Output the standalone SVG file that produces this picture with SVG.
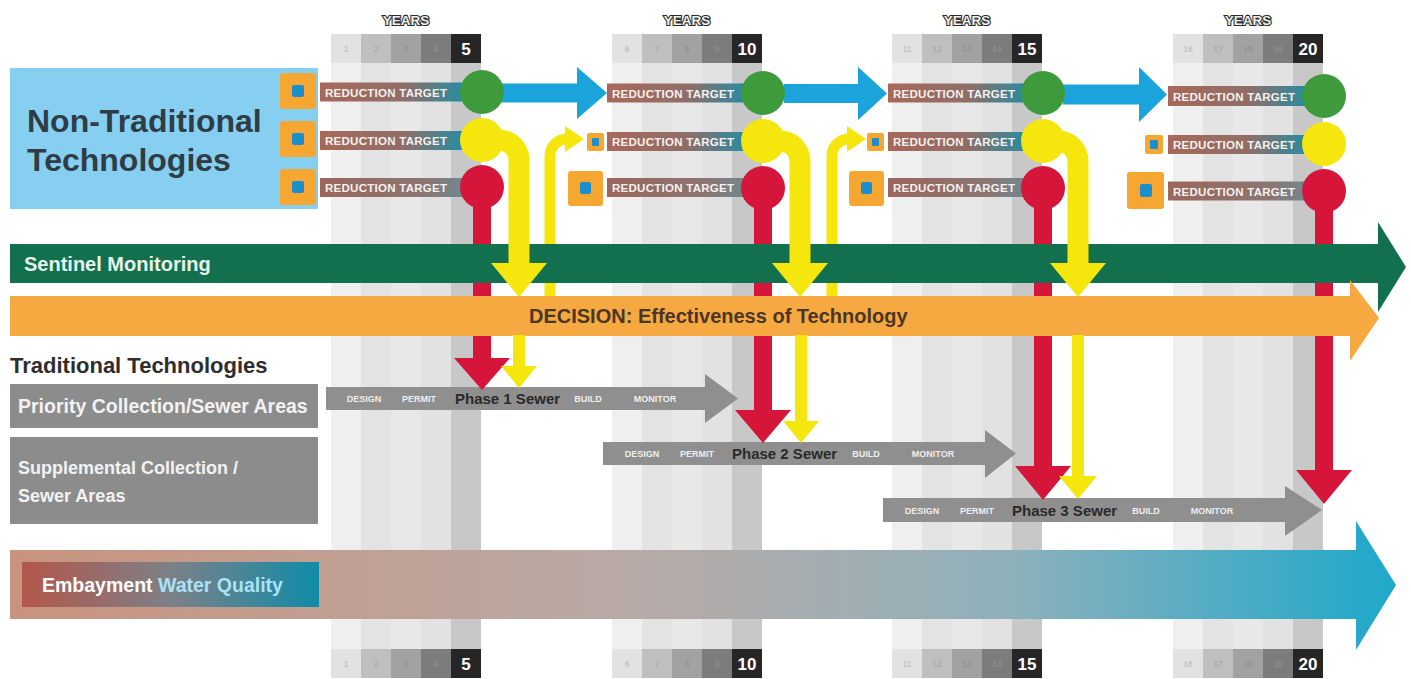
<svg xmlns="http://www.w3.org/2000/svg" width="1411" height="679" viewBox="0 0 1411 679">
  <style>
    .sans { font-family: "Liberation Sans", Arial, sans-serif; font-weight: bold; }
    .yrs { font-size: 13.5px; fill: #f0f0f0; stroke: #2b2b2b; stroke-width: 2.2px; paint-order: stroke; text-anchor: middle; }
    .yn { font-size: 8.5px; text-anchor: middle; }
    .yb { font-size: 17px; fill: #ffffff; text-anchor: middle; }
    .rt { font-size: 11.5px; fill: #f6f1ee; }
    .ph { font-size: 9px; fill: #eeeeee; text-anchor: middle; }
    .phn { font-size: 15px; fill: #2a2a2a; }
    .sq { fill: #f6a731; }
    .dot { fill: #1b8fcb; }
    .c0 { fill: #efefef; } .c1 { fill: #e3e3e3; } .c2 { fill: #e8e8e8; } .c3 { fill: #e2e2e2; } .c4 { fill: #c8c8c8; }
    .b0 { fill: #e2e2e2; } .b1 { fill: #bfbfbf; } .b2 { fill: #a2a2a2; } .b3 { fill: #7c7c7c; } .b4 { fill: #262626; }
    .t0 { fill: #c4c4c4; } .t1 { fill: #acacac; } .t2 { fill: #939393; } .t3 { fill: #8c8c8c; }
    .red { fill: #d5163a; }
    .blue { fill: #1ba3dc; }
    .yel { fill: #f5e60e; }
    .yels { fill: none; stroke: #f5e60e; }
    .phase { fill: #8f8f8f; }
    .gray-box { fill: #8c8c8c; }
    .box-txt { fill: #f2f2f2; }
  </style>
  <defs>
    <linearGradient id="gLabel" x1="0" y1="0" x2="1" y2="0">
      <stop offset="0" stop-color="#a8685a"/>
      <stop offset="0.55" stop-color="#8f6e68"/>
      <stop offset="1" stop-color="#1b8fa9"/>
    </linearGradient>
    <linearGradient id="gLabelLow" x1="0" y1="0" x2="1" y2="0">
      <stop offset="0" stop-color="#9c665c"/>
      <stop offset="0.7" stop-color="#8a7673"/>
      <stop offset="1" stop-color="#6a8c94"/>
    </linearGradient>
    <linearGradient id="gEmbay" x1="0" y1="0" x2="1" y2="0">
      <stop offset="0" stop-color="#c8937e"/>
      <stop offset="0.45" stop-color="#b8aaa6"/>
      <stop offset="0.72" stop-color="#8fb0bb"/>
      <stop offset="1" stop-color="#1ea8ca"/>
    </linearGradient>
    <linearGradient id="gEmbayIn" x1="0" y1="0" x2="1" y2="0">
      <stop offset="0" stop-color="#b3574a"/>
      <stop offset="0.5" stop-color="#7d8088"/>
      <stop offset="1" stop-color="#0f8ca8"/>
    </linearGradient>
  </defs>

  <rect width="1411" height="679" fill="#ffffff"/>

  <!-- year columns: background stripes, header and footer boxes -->
  <g id="timeline-columns">
    <g id="stripes">
      <rect class="c0" x="331" y="63" width="30" height="586"/><rect class="c1" x="361" y="63" width="30" height="586"/><rect class="c2" x="391" y="63" width="30" height="586"/><rect class="c3" x="421" y="63" width="30" height="586"/><rect class="c4" x="451" y="63" width="30" height="586"/>
      <rect class="c0" x="612" y="63" width="30" height="586"/><rect class="c1" x="642" y="63" width="30" height="586"/><rect class="c2" x="672" y="63" width="30" height="586"/><rect class="c3" x="702" y="63" width="30" height="586"/><rect class="c4" x="732" y="63" width="30" height="586"/>
      <rect class="c0" x="892" y="63" width="30" height="586"/><rect class="c1" x="922" y="63" width="30" height="586"/><rect class="c2" x="952" y="63" width="30" height="586"/><rect class="c3" x="982" y="63" width="30" height="586"/><rect class="c4" x="1012" y="63" width="30" height="586"/>
      <rect class="c0" x="1173" y="63" width="30" height="586"/><rect class="c1" x="1203" y="63" width="30" height="586"/><rect class="c2" x="1233" y="63" width="30" height="586"/><rect class="c3" x="1263" y="63" width="30" height="586"/><rect class="c4" x="1293" y="63" width="30" height="586"/>
    </g>
    <g id="years-top" class="sans">
      <text class="yrs" x="406" y="25">YEARS</text>
      <text class="yrs" x="687" y="25">YEARS</text>
      <text class="yrs" x="967" y="25">YEARS</text>
      <text class="yrs" x="1248" y="25">YEARS</text>

      <rect class="b0" x="331" y="34" width="30" height="29"/><rect class="b1" x="361" y="34" width="30" height="29"/><rect class="b2" x="391" y="34" width="30" height="29"/><rect class="b3" x="421" y="34" width="30" height="29"/><rect class="b4" x="451" y="34" width="30" height="29"/>
      <text class="yn t0" x="346" y="52">1</text><text class="yn t1" x="376" y="52">2</text><text class="yn t2" x="406" y="52">3</text><text class="yn t3" x="436" y="52">4</text><text class="yb" x="466" y="55">5</text>

      <rect class="b0" x="612" y="34" width="30" height="29"/><rect class="b1" x="642" y="34" width="30" height="29"/><rect class="b2" x="672" y="34" width="30" height="29"/><rect class="b3" x="702" y="34" width="30" height="29"/><rect class="b4" x="732" y="34" width="30" height="29"/>
      <text class="yn t0" x="627" y="52">6</text><text class="yn t1" x="657" y="52">7</text><text class="yn t2" x="687" y="52">8</text><text class="yn t3" x="717" y="52">9</text><text class="yb" x="747" y="55">10</text>

      <rect class="b0" x="892" y="34" width="30" height="29"/><rect class="b1" x="922" y="34" width="30" height="29"/><rect class="b2" x="952" y="34" width="30" height="29"/><rect class="b3" x="982" y="34" width="30" height="29"/><rect class="b4" x="1012" y="34" width="30" height="29"/>
      <text class="yn t0" x="907" y="52">11</text><text class="yn t1" x="937" y="52">12</text><text class="yn t2" x="967" y="52">13</text><text class="yn t3" x="997" y="52">14</text><text class="yb" x="1027" y="55">15</text>

      <rect class="b0" x="1173" y="34" width="30" height="29"/><rect class="b1" x="1203" y="34" width="30" height="29"/><rect class="b2" x="1233" y="34" width="30" height="29"/><rect class="b3" x="1263" y="34" width="30" height="29"/><rect class="b4" x="1293" y="34" width="30" height="29"/>
      <text class="yn t0" x="1188" y="52">16</text><text class="yn t1" x="1218" y="52">17</text><text class="yn t2" x="1248" y="52">18</text><text class="yn t3" x="1278" y="52">19</text><text class="yb" x="1308" y="55">20</text>
    </g>
    <g id="years-bottom" class="sans">
      <rect class="b0" x="331" y="649" width="30" height="29"/><rect class="b1" x="361" y="649" width="30" height="29"/><rect class="b2" x="391" y="649" width="30" height="29"/><rect class="b3" x="421" y="649" width="30" height="29"/><rect class="b4" x="451" y="649" width="30" height="29"/>
      <text class="yn t0" x="346" y="667">1</text><text class="yn t1" x="376" y="667">2</text><text class="yn t2" x="406" y="667">3</text><text class="yn t3" x="436" y="667">4</text><text class="yb" x="466" y="670">5</text>

      <rect class="b0" x="612" y="649" width="30" height="29"/><rect class="b1" x="642" y="649" width="30" height="29"/><rect class="b2" x="672" y="649" width="30" height="29"/><rect class="b3" x="702" y="649" width="30" height="29"/><rect class="b4" x="732" y="649" width="30" height="29"/>
      <text class="yn t0" x="627" y="667">6</text><text class="yn t1" x="657" y="667">7</text><text class="yn t2" x="687" y="667">8</text><text class="yn t3" x="717" y="667">9</text><text class="yb" x="747" y="670">10</text>

      <rect class="b0" x="892" y="649" width="30" height="29"/><rect class="b1" x="922" y="649" width="30" height="29"/><rect class="b2" x="952" y="649" width="30" height="29"/><rect class="b3" x="982" y="649" width="30" height="29"/><rect class="b4" x="1012" y="649" width="30" height="29"/>
      <text class="yn t0" x="907" y="667">11</text><text class="yn t1" x="937" y="667">12</text><text class="yn t2" x="967" y="667">13</text><text class="yn t3" x="997" y="667">14</text><text class="yb" x="1027" y="670">15</text>

      <rect class="b0" x="1173" y="649" width="30" height="29"/><rect class="b1" x="1203" y="649" width="30" height="29"/><rect class="b2" x="1233" y="649" width="30" height="29"/><rect class="b3" x="1263" y="649" width="30" height="29"/><rect class="b4" x="1293" y="649" width="30" height="29"/>
      <text class="yn t0" x="1188" y="667">16</text><text class="yn t1" x="1218" y="667">17</text><text class="yn t2" x="1248" y="667">18</text><text class="yn t3" x="1278" y="667">19</text><text class="yb" x="1308" y="670">20</text>
    </g>
  </g>

  <!-- left-hand category boxes -->
  <g id="non-traditional" class="sans">
    <rect x="10" y="68" width="308" height="141" fill="#86cff0"/>
    <text x="27" y="132" font-size="32" fill="#2f3d47">Non-Traditional</text>
    <text x="27" y="171" font-size="32" fill="#2f3d47">Technologies</text>
  </g>
  <g id="traditional-title" class="sans">
    <text x="10" y="373" font-size="22" fill="#2e2e2e">Traditional Technologies</text>
  </g>
  <g id="priority-areas" class="sans">
    <rect class="gray-box" x="10" y="384" width="308" height="44"/>
    <text class="box-txt" x="18" y="413" font-size="19.5">Priority Collection/Sewer Areas</text>
  </g>
  <g id="supplemental-areas" class="sans">
    <rect class="gray-box" x="10" y="437" width="308" height="87"/>
    <text class="box-txt" x="18" y="474" font-size="18">Supplemental Collection /</text>
    <text class="box-txt" x="18" y="502" font-size="18">Sewer Areas</text>
  </g>

  <!-- sewer phase arrows -->
  <g id="phase-1" class="sans">
    <path class="phase" d="M326,387 H705 V374 L738,398.5 L705,423 V410 H326 Z"/>
    <text class="ph" x="364" y="402">DESIGN</text>
    <text class="ph" x="419" y="402">PERMIT</text>
    <text class="phn" x="455" y="404">Phase 1 Sewer</text>
    <text class="ph" x="588" y="402">BUILD</text>
    <text class="ph" x="655" y="402">MONITOR</text>
  </g>
  <g id="phase-2" class="sans">
    <path class="phase" d="M603,442 H985 V430 L1016,453.5 L985,478 V465 H603 Z"/>
    <text class="ph" x="642" y="457">DESIGN</text>
    <text class="ph" x="697" y="457">PERMIT</text>
    <text class="phn" x="732" y="459">Phase 2 Sewer</text>
    <text class="ph" x="866" y="457">BUILD</text>
    <text class="ph" x="933" y="457">MONITOR</text>
  </g>
  <g id="phase-3" class="sans">
    <path class="phase" d="M883,498 H1285 V486 L1322,510 L1285,536 V522 H883 Z"/>
    <text class="ph" x="922" y="514">DESIGN</text>
    <text class="ph" x="977" y="514">PERMIT</text>
    <text class="phn" x="1012" y="516">Phase 3 Sewer</text>
    <text class="ph" x="1146" y="514">BUILD</text>
    <text class="ph" x="1212" y="514">MONITOR</text>
  </g>

  <!-- reduction target rows per five-year stage -->
  <g id="stage-5" class="sans">
    <rect class="sq" x="280" y="73" width="36" height="36" rx="3"/><rect class="dot" x="292" y="85" width="12" height="12" rx="2"/>
    <rect class="sq" x="280" y="121" width="36" height="36" rx="3"/><rect class="dot" x="292" y="133" width="12" height="12" rx="2"/>
    <rect class="sq" x="280" y="169" width="36" height="36" rx="3"/><rect class="dot" x="292" y="181" width="12" height="12" rx="2"/>
    <rect x="320" y="82.5" width="150" height="19" fill="url(#gLabel)"/><text class="rt" x="325" y="96.5" textLength="122">REDUCTION TARGET</text>
    <rect x="320" y="131" width="150" height="19" fill="url(#gLabel)"/><text class="rt" x="325" y="145" textLength="122">REDUCTION TARGET</text>
    <rect x="320" y="178" width="150" height="19" fill="url(#gLabelLow)"/><text class="rt" x="325" y="192" textLength="122">REDUCTION TARGET</text>
  </g>
  <g id="stage-10" class="sans">
    <rect class="sq" x="587" y="133" width="17" height="18" rx="2"/><rect class="dot" x="592" y="138" width="7" height="8" rx="1"/>
    <rect class="sq" x="568" y="171" width="35" height="35" rx="3"/><rect class="dot" x="580" y="182" width="11" height="12" rx="2"/>
    <rect x="607" y="83.5" width="146" height="19" fill="url(#gLabel)"/><text class="rt" x="612" y="97.5" textLength="122">REDUCTION TARGET</text>
    <rect x="607" y="132" width="146" height="19" fill="url(#gLabel)"/><text class="rt" x="612" y="146" textLength="122">REDUCTION TARGET</text>
    <rect x="607" y="178" width="146" height="19" fill="url(#gLabelLow)"/><text class="rt" x="612" y="192" textLength="122">REDUCTION TARGET</text>
  </g>
  <g id="stage-15" class="sans">
    <rect class="sq" x="867" y="133" width="17" height="18" rx="2"/><rect class="dot" x="872" y="138" width="7" height="8" rx="1"/>
    <rect class="sq" x="849" y="171" width="35" height="35" rx="3"/><rect class="dot" x="861" y="182" width="11" height="12" rx="2"/>
    <rect x="888" y="83.5" width="145" height="19" fill="url(#gLabel)"/><text class="rt" x="893" y="97.5" textLength="122">REDUCTION TARGET</text>
    <rect x="888" y="132" width="145" height="19" fill="url(#gLabel)"/><text class="rt" x="893" y="146" textLength="122">REDUCTION TARGET</text>
    <rect x="888" y="178" width="145" height="19" fill="url(#gLabelLow)"/><text class="rt" x="893" y="192" textLength="122">REDUCTION TARGET</text>
  </g>
  <g id="stage-20" class="sans">
    <rect class="sq" x="1145" y="135" width="18" height="19" rx="2"/><rect class="dot" x="1150" y="140" width="8" height="9" rx="1"/>
    <rect class="sq" x="1127" y="172" width="37" height="37" rx="3"/><rect class="dot" x="1140" y="184" width="12" height="13" rx="2"/>
    <rect x="1168" y="86" width="146" height="20" fill="url(#gLabel)"/><text class="rt" x="1173" y="100.5" textLength="122">REDUCTION TARGET</text>
    <rect x="1168" y="135" width="146" height="19" fill="url(#gLabel)"/><text class="rt" x="1173" y="149" textLength="122">REDUCTION TARGET</text>
    <rect x="1168" y="181.5" width="146" height="19" fill="url(#gLabelLow)"/><text class="rt" x="1173" y="195.5" textLength="122">REDUCTION TARGET</text>
  </g>

  <!-- connectors running beneath the monitoring and decision bands -->
  <g id="connectors-under">
    <!-- red: reduction target missed, go to sewer phase -->
    <path class="red" d="M473,187 H491 V358 H510 L482,390 L454,358 H473 Z"/>
    <path class="red" d="M754,188 H772 V410 H791 L763,443 L735,410 H754 Z"/>
    <path class="red" d="M1034,188 H1052 V466 H1071 L1043,500 L1015,466 H1034 Z"/>
    <path class="red" d="M1315,191 H1333 V470 H1352 L1324,504 L1296,470 H1315 Z"/>
    <!-- yellow: back up to the next stage's technology -->
    <path class="yels" stroke-width="11" d="M550,296 V156 A17,17 0 0 1 567,139 H568"/>
    <path class="yel" d="M565,126 L584,139 L565,152 Z"/>
    <path class="yels" stroke-width="11" d="M832,296 V156 A17,17 0 0 1 849,139 H850"/>
    <path class="yel" d="M847,126 L866,139 L847,152 Z"/>
    <!-- blue: target met, continue to next stage -->
    <path class="blue" d="M500,83.5 H577 V67 L607,93 L577,119 V102.5 H500 Z"/>
    <path class="blue" d="M784,84 H858 V67 L887,93.5 L858,120 V103 H784 Z"/>
    <path class="blue" d="M1063,84.5 H1139 V67 L1167,94.5 L1139,122 V104.5 H1063 Z"/>
  </g>

  <!-- monitoring and decision bands -->
  <g id="sentinel-monitoring" class="sans">
    <path fill="#12704e" d="M10,244 H1378 V222 L1406,267 L1378,312 V283 H10 Z"/>
    <text x="24" y="271" font-size="20" fill="#e6f2ec">Sentinel Monitoring</text>
  </g>
  <g id="decision" class="sans">
    <path fill="#f6a940" d="M10,296 H1350 V280 L1379,318 L1350,361 V336 H10 Z"/>
    <text x="529" y="323" font-size="20" fill="#4b3628">DECISION: Effectiveness of Technology</text>
  </g>

  <!-- connectors drawn over the bands -->
  <g id="connectors-over">
    <!-- yellow: partial result goes to decision -->
    <path class="yels" stroke-width="21" d="M482,140 H499 A20,20 0 0 1 519,160 V264"/>
    <path class="yel" d="M491,263 H547 L519,297 Z"/>
    <path class="yels" stroke-width="21" d="M763,141 H780 A20,20 0 0 1 800,161 V264"/>
    <path class="yel" d="M772,263 H828 L800,297 Z"/>
    <path class="yels" stroke-width="21" d="M1043,141 H1058 A20,20 0 0 1 1078,161 V264"/>
    <path class="yel" d="M1050,263 H1106 L1078,297 Z"/>
    <!-- yellow: decision leads to the sewer phase -->
    <path class="yel" d="M513,335 H525 V366 H537 L519,388 L501,366 H513 Z"/>
    <path class="yel" d="M795,335 H807 V421 H819 L801,443 L783,421 H795 Z"/>
    <path class="yel" d="M1072,335 H1084 V476 H1097 L1078,499 L1059,476 H1072 Z"/>
  </g>

  <!-- stage indicator lights -->
  <g id="lights-5">
    <circle cx="482" cy="92" r="22" fill="#3d9b3c"/>
    <circle cx="482" cy="140" r="22" fill="#f5e60e"/>
    <circle cx="482" cy="187" r="22" fill="#d5163a"/>
  </g>
  <g id="lights-10">
    <circle cx="763" cy="93" r="22" fill="#3d9b3c"/>
    <circle cx="763" cy="141" r="22" fill="#f5e60e"/>
    <circle cx="763" cy="188" r="22" fill="#d5163a"/>
  </g>
  <g id="lights-15">
    <circle cx="1043" cy="93" r="22" fill="#3d9b3c"/>
    <circle cx="1043" cy="141" r="22" fill="#f5e60e"/>
    <circle cx="1043" cy="188" r="22" fill="#d5163a"/>
  </g>
  <g id="lights-20">
    <circle cx="1324" cy="96" r="22" fill="#3d9b3c"/>
    <circle cx="1324" cy="144" r="22" fill="#f5e60e"/>
    <circle cx="1324" cy="191" r="22" fill="#d5163a"/>
  </g>

  <!-- embayment water quality outcome -->
  <g id="embayment" class="sans">
    <path fill="url(#gEmbay)" d="M10,550 H1356 V521 L1396,585 L1356,650 V619 H10 Z"/>
    <rect x="22" y="562" width="297" height="45" fill="url(#gEmbayIn)"/>
    <text x="42" y="592" font-size="19.5" fill="#ffffff"><tspan>Embayment </tspan><tspan fill="#a9e3f3">Water Quality</tspan></text>
  </g>
</svg>
